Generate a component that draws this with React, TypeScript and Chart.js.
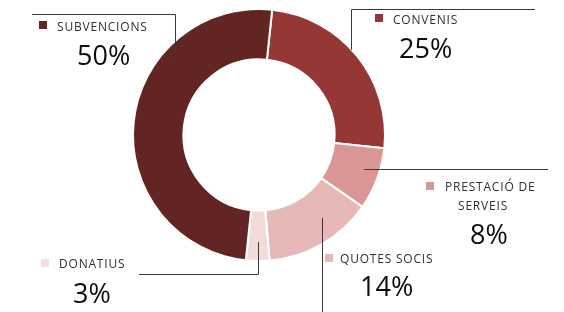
import React, { useEffect, useRef } from "react";
import { Chart, registerables } from "chart.js";

Chart.register(...registerables);

const categories = ["CONVENIS", "PRESTACIÓ DE SERVEIS", "QUOTES SOCIS", "DONATIUS", "SUBVENCIONS"];
const values = [25, 8, 14, 3, 50];
const percentLabels = ["25%", "8%", "14%", "3%", "50%"];
const colors = ["#953735", "#d99694", "#e6b9b8", "#f2dcdb", "#632523"];

// annotation layout (label boxes and leader lines)
const labelLayout = [
  { lines: ["CONVENIS"], sq: [375, 14], tx: [[393, 24]], pct: [399, 58], leader: [[535, 9.5], [351.5, 9.5], [351.5, 50]] },
  { lines: ["PRESTACIÓ DE", "SERVEIS"], sq: [426, 182], tx: [[445, 191], [458, 210]], pct: [470, 244], leader: [[364, 169.5], [548, 169.5]] },
  { lines: ["QUOTES SOCIS"], sq: [325, 254], tx: [[340, 263]], pct: [360, 296], leader: [[322.5, 218], [322.5, 312]] },
  { lines: ["DONATIUS"], sq: [41, 259], tx: [[59, 268]], pct: [73, 303], leader: [[258.5, 242], [258.5, 274.5], [139, 274.5]] },
  { lines: ["SUBVENCIONS"], sq: [39, 21], tx: [[57, 31]], pct: [77, 65], leader: [[32, 14.5], [175.5, 14.5], [175.5, 60]] },
];

const labelsPlugin = {
  id: "customLabels",
  afterDraw(chart: any) {
    const ctx = chart.ctx as CanvasRenderingContext2D;
    ctx.save();
    labelLayout.forEach((l, i) => {
      ctx.strokeStyle = "#3a3a3a";
      ctx.lineWidth = 1;
      ctx.beginPath();
      l.leader.forEach((p, j) => (j === 0 ? ctx.moveTo(p[0], p[1]) : ctx.lineTo(p[0], p[1])));
      ctx.stroke();
      ctx.fillStyle = colors[i];
      ctx.fillRect(l.sq[0], l.sq[1], 8, 8);
      ctx.fillStyle = "#2f2f3a";
      ctx.font = "12px 'Open Sans'";
      (ctx as any).letterSpacing = "0.8px";
      ctx.textAlign = "left";
      ctx.textBaseline = "alphabetic";
      l.lines.forEach((t, j) => ctx.fillText(t, l.tx[j][0], l.tx[j][1]));
      (ctx as any).letterSpacing = "0px";
      ctx.fillStyle = "#0d0d0d";
      ctx.font = "27px 'Open Sans'";
      ctx.fillText(percentLabels[i], l.pct[0], l.pct[1]);
    });
    ctx.restore();
  },
};

export default function App() {
  const ref = useRef<HTMLCanvasElement>(null);
  useEffect(() => {
    document.body.style.margin = "0";
    const chart = new Chart(ref.current!, {
      type: "doughnut",
      data: {
        labels: categories,
        datasets: [
          {
            data: values,
            backgroundColor: colors,
            borderColor: "#ffffff",
            borderWidth: 2,
          },
        ],
      },
      options: {
        responsive: false,
        animation: false,
        cutout: "60%",
        rotation: 6,
        layout: { padding: { left: 132, right: 178, top: 8, bottom: 50 } },
        plugins: { legend: { display: false }, tooltip: { enabled: false } },
      },
      plugins: [labelsPlugin],
    });
    return () => chart.destroy();
  }, []);
  return <canvas ref={ref} width={564} height={312} style={{ display: "block" }} />;
}
